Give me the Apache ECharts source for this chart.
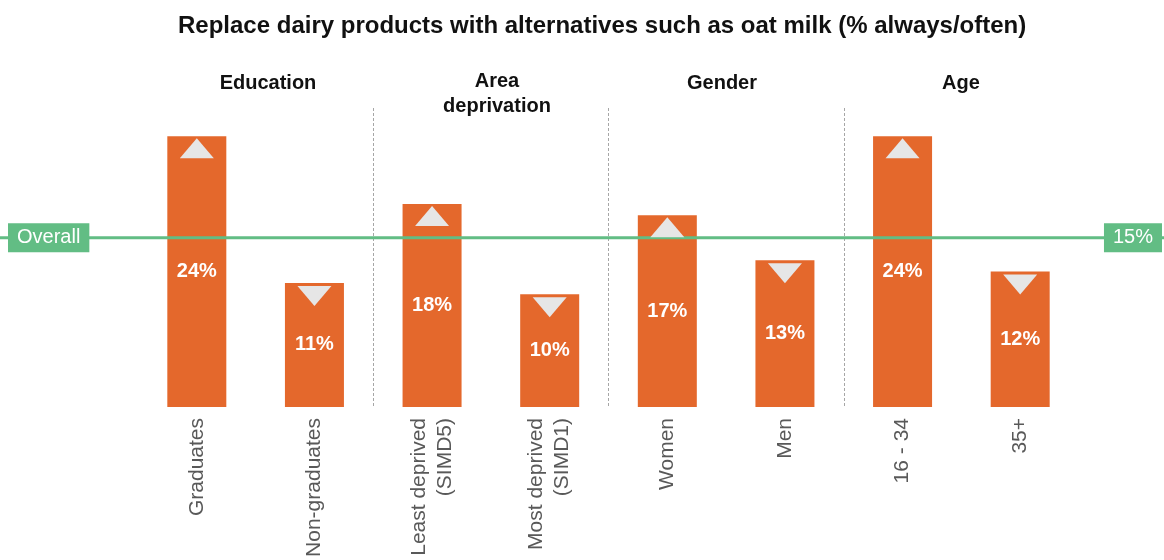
<!DOCTYPE html>
<html>
<head>
<meta charset="utf-8">
<script src="https://cdn.jsdelivr.net/npm/echarts@6/dist/echarts.min.js"></script>
<style>
  html, body { margin: 0; padding: 0; background: #fff; }
  #chart { width: 1164px; height: 560px; }
</style>
</head>
<body>
<div id="chart"></div>
<script>
// Share who always/often replace dairy with alternatives, by subgroup
const categories = ['Graduates', 'Non-graduates', 'Least deprived\n(SIMD5)', 'Most deprived\n(SIMD1)', 'Women', 'Men', '16 - 34', '35+'];
const values = [24, 11, 18, 10, 17, 13, 24, 12];
const overall = 15;
const overallName = 'Overall';
const groups = ['Education', 'Area\ndeprivation', 'Gender', 'Age'];
const titleText = 'Replace dairy products with alternatives such as oat milk (% always/often)';

const FONT = '"Liberation Sans", Arial, sans-serif';
const ORANGE = '#E4682C';
const GREEN = '#62BD84';
const SEP = '#A6A6A6';
const Y_MAX = 26.5;

// Arrow markers: up when above the overall figure, down when below
const arrows = values.map(v => ({
  value: v,
  symbolRotate: v > overall ? 0 : 180,
  symbolOffset: [0, v > overall ? 12 : 13]
}));

// Group headings above each pair of bars
const groupX = [268, 497, 722, 961];
const groupTexts = groups.map((g, i) => ({
  type: 'text',
  x: groupX[i],
  top: g.includes('\n') ? 69 : 71,
  style: {
    text: g,
    x: 0,
    textAlign: 'center',
    font: 'bold 20px ' + FONT,
    fill: '#111',
    lineHeight: 25
  }
}));

const chart = echarts.init(document.getElementById('chart'), null, { renderer: 'canvas' });
chart.setOption({
  animation: false,
  backgroundColor: '#fff',
  title: {
    text: titleText,
    left: 173,
    top: 9,
    textStyle: { fontFamily: FONT, fontSize: 24, fontWeight: 'bold', color: '#111' }
  },
  graphic: groupTexts,
  grid: [
    { left: 138, right: 85, top: 108, bottom: 153 },
    { left: 0, right: 0, top: 108, bottom: 153 }
  ],
  xAxis: [
    {
      type: 'category',
      data: categories,
      gridIndex: 0,
      axisLine: { show: false },
      axisTick: { show: false },
      axisLabel: {
        rotate: 90,
        margin: 11,
        fontFamily: FONT,
        fontSize: 21,
        color: '#595959',
        lineHeight: 26,
        interval: 0
      },
      splitLine: {
        show: true,
        interval: (i) => i === 2 || i === 4 || i === 6,
        // the closing boundary after the last bar stays hidden
        lineStyle: { color: [SEP, SEP, SEP, 'rgba(0,0,0,0)'], type: [3, 2], width: 1 }
      }
    },
    { type: 'value', gridIndex: 1, min: 0, max: 1, show: false }
  ],
  yAxis: [
    { type: 'value', gridIndex: 0, min: 0, max: Y_MAX, show: false, splitLine: { show: false } },
    { type: 'value', gridIndex: 1, min: 0, max: Y_MAX, show: false, splitLine: { show: false } }
  ],
  series: [
    {
      type: 'bar',
      data: values,
      barWidth: 59,
      itemStyle: { color: ORANGE },
      z: 2,
      label: {
        show: true,
        position: 'inside',
        formatter: '{c}%',
        fontFamily: FONT,
        fontSize: 20,
        fontWeight: 'bold',
        color: '#fff'
      }
    },
    {
      type: 'line',
      xAxisIndex: 1,
      yAxisIndex: 1,
      data: [
        { value: [0, overall], label: { position: 'right', distance: 8, formatter: overallName } },
        { value: [1, overall], label: { position: 'left', distance: 2, formatter: overall + '%' } }
      ],
      symbol: 'circle',
      symbolSize: 0,
      showSymbol: true,
      clip: false,
      lineStyle: { color: GREEN, width: 3 },
      z: 3,
      label: {
        show: true,
        fontFamily: FONT,
        fontSize: 20,
        color: '#fff',
        backgroundColor: GREEN,
        padding: [5, 9, 4, 9],
        lineHeight: 20
      }
    },
    {
      type: 'scatter',
      data: arrows,
      symbol: 'triangle',
      symbolSize: [34, 20],
      itemStyle: { color: '#E6E6E6', opacity: 1 },
      z: 4,
      silent: true
    }
  ]
});
</script>
</body>
</html>
